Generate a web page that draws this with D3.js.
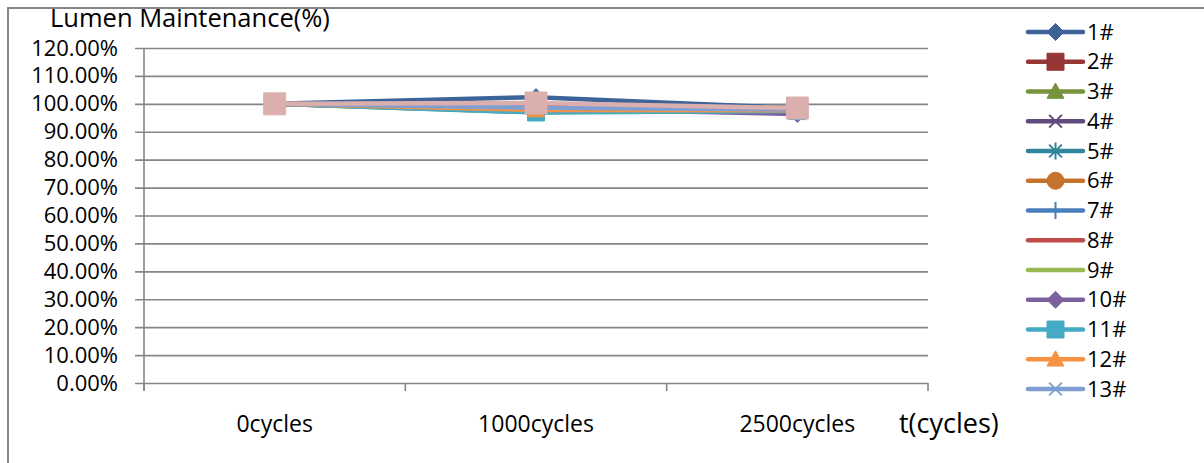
<!DOCTYPE html>
<html><head><meta charset="utf-8">
<script src="https://cdn.jsdelivr.net/npm/d3@7"></script>
<style>
html,body{margin:0;padding:0;background:#fff;}
svg{display:block;font-family:"Open Sans",sans-serif;}
</style></head>
<body><svg id="c" width="1204" height="463"></svg>
<script>
const categories = ["0cycles","1000cycles","2500cycles"];
const yTicks = [0,10,20,30,40,50,60,70,80,90,100,110,120];
const seriesNames = ["1#","2#","3#","4#","5#","6#","7#","8#","9#","10#","11#","12#","13#","14#"];
const s1  = [100, 102.4, 98.4];
const s2  = [100, 99.0, 98.0];
const s3  = [100, 97.0, 97.8];
const s4  = [100, 97.6, 97.2];
const s5  = [100, 97.2, 97.6];
const s6  = [100, 98.0, 98.2];
const s7  = [100, 98.5, 97.9];
const s8  = [100, 98.8, 98.1];
const s9  = [100, 97.4, 97.5];
const s10 = [100, 98.2, 96.4];
const s11 = [100, 96.9, 97.4];
const s12 = [100, 97.8, 97.7];
const s13 = [100, 98.6, 98.0];
const s14 = [100, 100.3, 98.5];
const seriesValues = [s1,s2,s3,s4,s5,s6,s7,s8,s9,s10,s11,s12,s13,s14];
const colors = ["#3C6499","#953735","#77933C","#604A7B","#31859C","#C5722D","#4A7EBB","#BE4B48","#98B954","#7D60A0","#46AAC5","#F69240","#7F9FD3","#DBAFAE"];
const markers = ["diamond","square","triangle","x","star","circle","plus","none","none","diamond","square","triangle","x","square"];
const legendCount = 13;

const svg = d3.select("#c");
const gridColor = "#868686";

// outer frame
svg.append("rect").attr("x",8).attr("y",8).attr("width",1240).attr("height",500)
  .attr("fill","none").attr("stroke",gridColor).attr("stroke-width",2);

const x = d3.scaleBand().domain(categories).range([144,928]);
const y = d3.scaleLinear().domain([0,120]).range([383,48]);

// gridlines + y labels
const yAxis = d3.axisLeft(y).tickValues(yTicks).tickSize(-(928-144)).tickPadding(0)
  .tickFormat(d => d3.format(".2f")(d) + "%");
const gy = svg.append("g").attr("transform","translate(144,0)").call(yAxis);
gy.select(".domain").remove();
gy.selectAll(".tick line").attr("x1",-9).attr("stroke",gridColor).attr("stroke-width",1.6);
gy.selectAll(".tick text").attr("x",-26).attr("font-size",22).attr("fill","#000")
  .attr("font-family","'Open Sans',sans-serif");

// y axis line
svg.append("line").attr("x1",144).attr("x2",144).attr("y1",48).attr("y2",391)
  .attr("stroke",gridColor).attr("stroke-width",1.6);
// x axis ticks
const bounds = [x.range()[0]].concat(categories.map(c => x(c)+x.bandwidth()));
svg.selectAll(".xt").data(bounds).enter().append("line")
  .attr("x1",d=>d).attr("x2",d=>d).attr("y1",383).attr("y2",391)
  .attr("stroke",gridColor).attr("stroke-width",1.6);
// x labels
svg.selectAll(".xl").data(categories).enter().append("text")
  .attr("x",d=>x(d)+x.bandwidth()/2).attr("y",432).attr("text-anchor","middle")
  .attr("font-size",23).text(d=>d);

svg.append("text").attr("x",899).attr("y",433).attr("font-size",27).text("t(cycles)");
svg.append("text").attr("x",50).attr("y",27).attr("font-size",25.5).text("Lumen Maintenance(%)");

function markerPath(type, size){
  const s = size/2;
  switch(type){
    case "diamond": return `M0,${-s}L${s},0L0,${s}L${-s},0Z`;
    case "square": return `M${-s},${-s}H${s}V${s}H${-s}Z`;
    case "triangle": return `M0,${-s}L${s},${s*0.8}L${-s},${s*0.8}Z`;
    case "circle": return d3.symbol(d3.symbolCircle, Math.PI*s*s)();
    case "x": return `M${-s*0.75},${-s*0.75}L${s*0.75},${s*0.75}M${-s*0.75},${s*0.75}L${s*0.75},${-s*0.75}`;
    case "star": return `M${-s*0.75},${-s*0.75}L${s*0.75},${s*0.75}M${-s*0.75},${s*0.75}L${s*0.75},${-s*0.75}M0,${-s}V${s}`;
    case "plus": return `M0,${-s}V${s}M${-s*0.6},0H${s*0.6}`;
    default: return "";
  }
}
function drawMarker(g, type, color, size){
  if(type==="none") return;
  const open = (type==="x"||type==="star"||type==="plus");
  g.append("path").attr("d", markerPath(type,size))
    .attr("fill", open ? "none" : color)
    .attr("stroke", color).attr("stroke-width", open ? 2 : 1);
}

const line = d3.line().x((d,i)=>x(categories[i])+x.bandwidth()/2).y(d=>y(d));
const plot = svg.append("g");
seriesValues.forEach((vals,k)=>{
  plot.append("path").datum(vals).attr("d",line).attr("fill","none")
    .attr("stroke",colors[k]).attr("stroke-width",4.5).attr("stroke-linejoin","round");
});
seriesValues.forEach((vals,k)=>{
  vals.forEach((v,i)=>{
    const g = plot.append("g").attr("transform",`translate(${x(categories[i])+x.bandwidth()/2},${y(v)})`);
    drawMarker(g, markers[k], colors[k], k===13 ? 22 : 17);
  });
});

// legend
const leg = svg.append("g");
for(let k=0;k<legendCount;k++){
  const ly = 32 + k*29.75;
  leg.append("line").attr("x1",1028).attr("x2",1083).attr("y1",ly).attr("y2",ly)
    .attr("stroke",colors[k]).attr("stroke-width",4.5).attr("stroke-linecap","round");
  const g = leg.append("g").attr("transform",`translate(1055.5,${ly})`);
  drawMarker(g, markers[k], colors[k], 17);
  leg.append("text").attr("x",1087).attr("y",ly).attr("dy","0.35em").attr("font-size",22).text(seriesNames[k]);
}
</script></body></html>
